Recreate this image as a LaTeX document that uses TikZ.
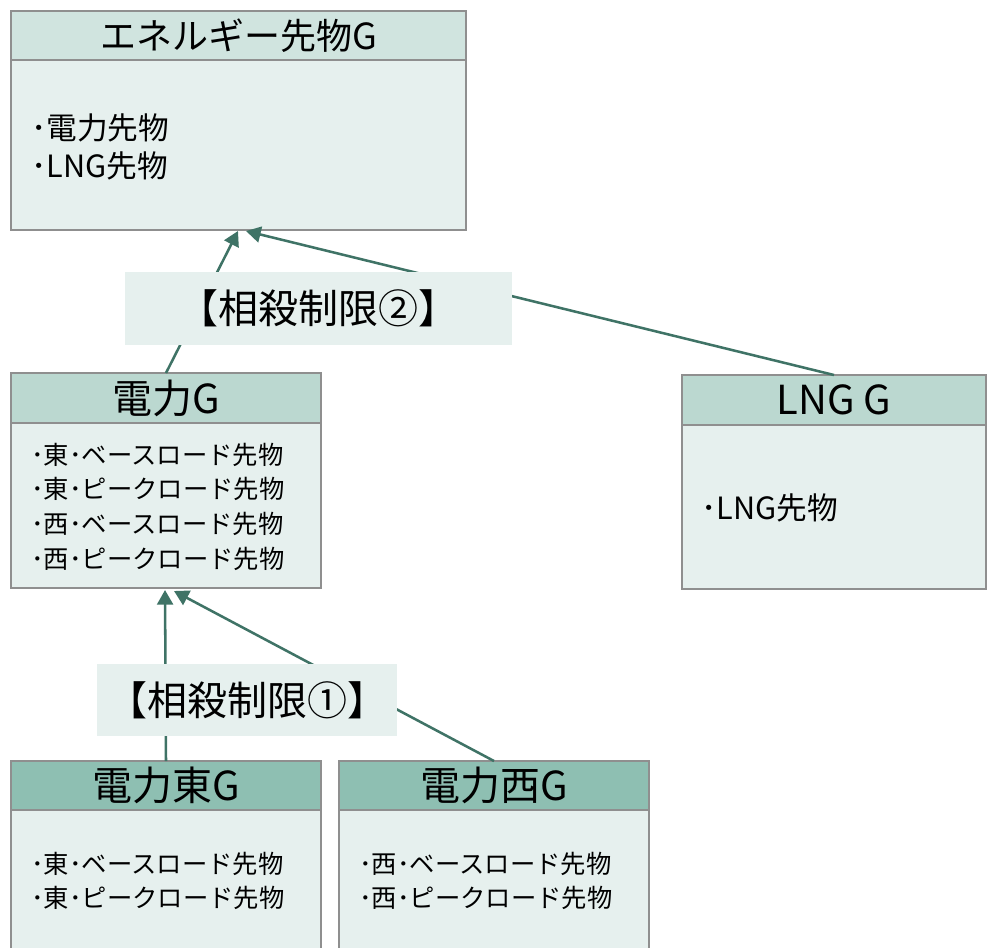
\documentclass[tikz,border=0pt]{standalone}
\usepackage{fontspec}
\newfontfamily\jp{Noto Sans CJK JP}
\usetikzlibrary{arrows.meta}
\definecolor{bodyfill}{HTML}{E6F0EE}
\definecolor{hdrA}{HTML}{D0E4DF}
\definecolor{hdrB}{HTML}{BBD8D0}
\definecolor{hdrC}{HTML}{8EBFB2}
\definecolor{edgegray}{HTML}{8F8F8F}
\definecolor{conn}{HTML}{3F7366}
\begin{document}
\begin{tikzpicture}[x=0.75pt,y=-0.75pt,font=\jp,
  panel/.style={draw=edgegray,line width=1pt,fill=bodyfill,anchor=north west,inner sep=0pt,outer sep=0pt},
  hdr/.style={draw=edgegray,line width=1pt,anchor=north west,inner sep=0pt,outer sep=0pt,font=\jp\fontsize{30}{32}\selectfont},
  item/.style={anchor=west,inner sep=0pt,align=left},
  bigitem/.style={item,font=\jp\fontsize{23}{28.5}\selectfont},
  smallitem/.style={item,font=\jp\fontsize{19}{26}\selectfont},
  tag/.style={fill=bodyfill,inner sep=0pt,font=\jp\fontsize{30}{32}\selectfont},
  link/.style={draw=conn,line width=1.9pt,-{Triangle[length=11pt,width=12pt]}}]
\useasboundingbox (0,0) rectangle (987,947);
\clip (0,0) rectangle (987,947);

% top box
\node[panel,minimum width=341.25pt,minimum height=164.25pt] (top) at (11,11) {};
\node[hdr,fill=hdrA,minimum width=341.25pt,minimum height=36.75pt,font=\jp\fontsize{27}{30}\selectfont] (tophdr) at (11,11) {エネルギー先物G};
\node[bigitem] (topitems) at (31,147) {･電力先物\\･LNG先物};

% power box
\node[panel,minimum width=232.5pt,minimum height=161.25pt] (pw) at (11,373) {};
\node[hdr,fill=hdrB,minimum width=232.5pt,minimum height=37.5pt] (pwhdr) at (11,373) {電力G};
\node[smallitem] (pwitems) at (31,506.5) {･東･ベースロード先物\\･東･ピークロード先物\\･西･ベースロード先物\\･西･ピークロード先物};

% LNG box
\node[panel,minimum width=228pt,minimum height=160.5pt] (lng) at (682,375) {};
\node[hdr,fill=hdrB,minimum width=228pt,minimum height=37.5pt] (lnghdr) at (682,375) {LNG G};
\node[bigitem] (lngitems) at (701,508) {･LNG先物};

% east box
\node[panel,minimum width=232.5pt,minimum height=150pt] (east) at (11,761) {};
\node[hdr,fill=hdrC,minimum width=232.5pt,minimum height=36.75pt] (easthdr) at (11,761) {電力東G};
\node[smallitem] (eastitems) at (31,881) {･東･ベースロード先物\\･東･ピークロード先物};

% west box
\node[panel,minimum width=232.5pt,minimum height=150pt] (west) at (339,761) {};
\node[hdr,fill=hdrC,minimum width=232.5pt,minimum height=36.75pt] (westhdr) at (339,761) {電力西G};
\node[smallitem] (westitems) at (359,881) {･西･ベースロード先物\\･西･ピークロード先物};

% arrow targets
\coordinate (topin1) at (238,231);
\coordinate (topin2) at (246,231);
\coordinate (pwin1) at (165,590);
\coordinate (pwin2) at (174,591);

% connectors
\draw[link] (pwhdr.north) -- (topin1);
\draw[link] (lnghdr.north) -- (topin2);
\draw[link] (easthdr.north) -- (pwin1);
\draw[link] (westhdr.north) -- (pwin2);

% labels
\node[tag,minimum width=290.25pt,minimum height=54.75pt] (lim2) at (318.5,308.5) {【相殺制限②】};
\node[tag,minimum width=225pt,minimum height=54pt] (lim1) at (247,700) {【相殺制限①】};
\end{tikzpicture}
\end{document}
